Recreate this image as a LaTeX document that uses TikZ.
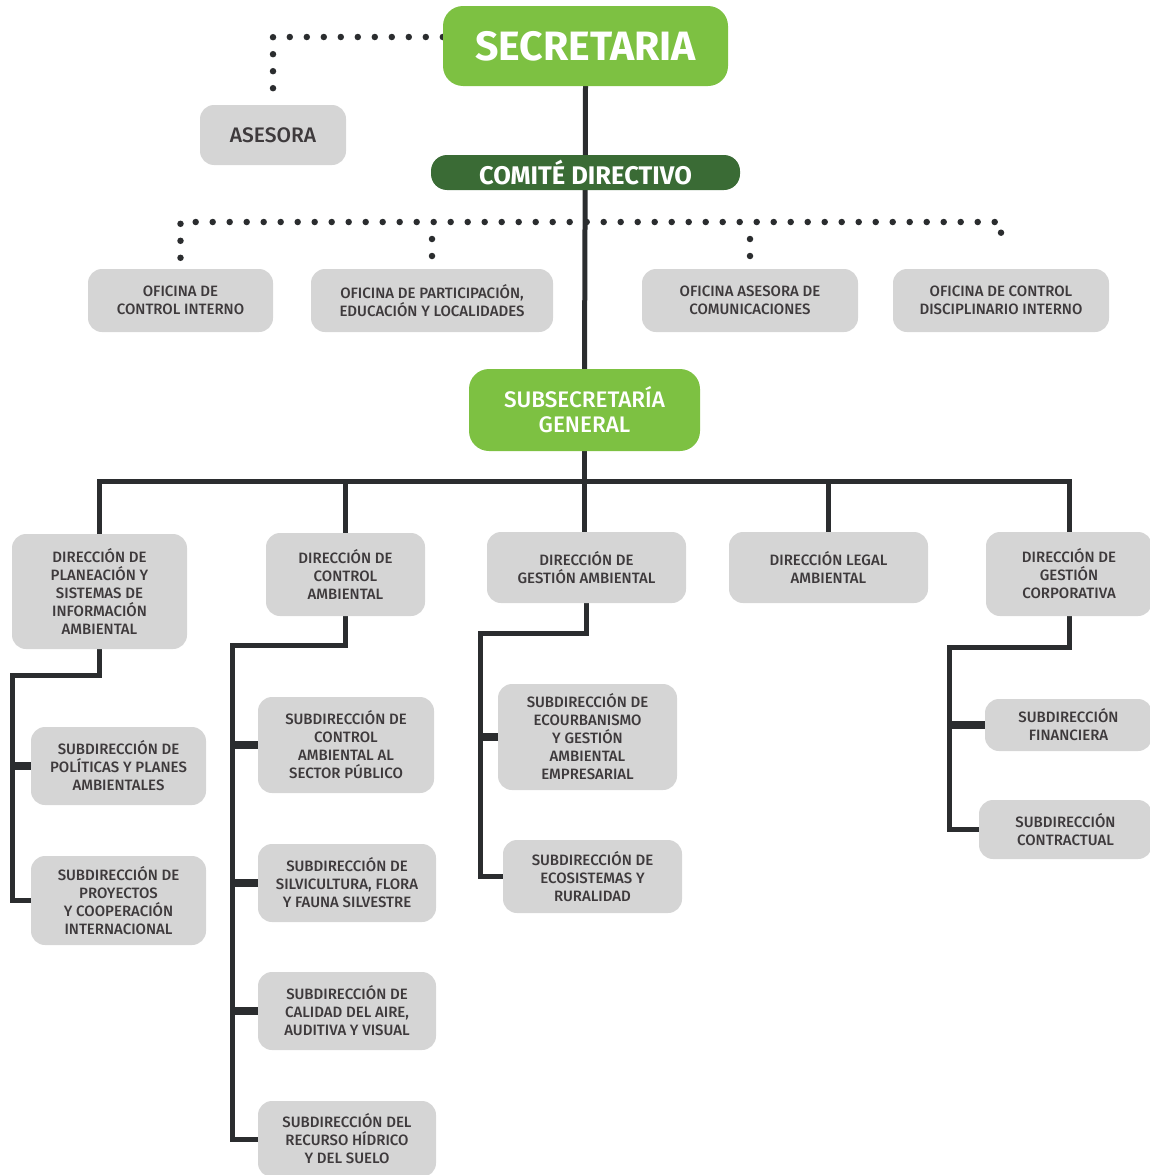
\documentclass[tikz,border=0pt]{standalone}
\usepackage{fontspec}
\setmainfont{Fira Sans}[UprightFont=* Medium, BoldFont=* Bold]
\usetikzlibrary{backgrounds}
\definecolor{boxgray}{HTML}{D5D5D5}
\definecolor{txtc}{HTML}{3E3A3C}
\definecolor{lgreen}{HTML}{7DC142}
\definecolor{dgreen}{HTML}{3A6B35}
\definecolor{linec}{HTML}{2B2D2F}
\tikzset{
  gbox/.style={fill=boxgray, rounded corners=14pt, text=txtc, align=center, inner sep=0pt,
    font=\fontsize{15}{18}\selectfont},
  grbox/.style={fill=lgreen, rounded corners=20pt, text=white, align=center, inner sep=0pt},
  conn/.style={draw=linec, line width=5pt},
  stub/.style={draw=linec, line width=8pt},
  dots/.style={draw=linec, line width=6.5pt, line cap=round, dash pattern=on 0pt off 17pt}
}
\begin{document}
\begin{tikzpicture}[x=1pt,y=-1pt]
\useasboundingbox (0,0) rectangle (1149,1175);

% top
\node[grbox, minimum width=285, minimum height=80, font=\fontsize{41}{43}\selectfont\bfseries] (sec) at (585.5,46) {SECRETARIA};
\node[gbox, minimum width=146, minimum height=60, font=\fontsize{21}{24}\selectfont] (ase) at (273,135) {ASESORA};
\node[fill=dgreen, rounded corners=16pt, text=white, inner sep=0pt, minimum width=309, minimum height=35,
  font=\fontsize{25.5}{27}\selectfont\bfseries] (com) at (585.5,172.5) {COMITÉ DIRECTIVO};

% oficinas
\node[gbox, minimum width=185, minimum height=63] (o1) at (180.5,300.5) {OFICINA DE\\CONTROL INTERNO};
\node[gbox, minimum width=242, minimum height=63] (o2) at (432,300.5) {OFICINA DE PARTICIPACIÓN,\\EDUCACIÓN Y LOCALIDADES};
\node[gbox, minimum width=216, minimum height=63] (o3) at (750,300.5) {OFICINA ASESORA DE\\COMUNICACIONES};
\node[gbox, minimum width=216, minimum height=63] (o4) at (1001,300.5) {OFICINA DE CONTROL\\DISCIPLINARIO INTERNO};

% subsecretaria
\node[grbox, minimum width=231, minimum height=82, font=\fontsize{22.5}{25}\selectfont] (sub) at (584.5,410) {SUBSECRETARÍA\\GENERAL};

% direcciones
\node[gbox, minimum width=175, minimum height=115] (d1) at (99.5,591.5) {DIRECCIÓN DE\\PLANEACIÓN Y\\SISTEMAS DE\\INFORMACIÓN\\AMBIENTAL};
\node[gbox, minimum width=159, minimum height=83] (d2) at (345.5,574.5) {DIRECCIÓN DE\\CONTROL\\AMBIENTAL};
\node[gbox, minimum width=199, minimum height=71] (d3) at (586.5,567.5) {DIRECCIÓN DE\\GESTIÓN AMBIENTAL};
\node[gbox, minimum width=199, minimum height=71] (d4) at (828.5,567.5) {DIRECCIÓN LEGAL\\AMBIENTAL};
\node[gbox, minimum width=166, minimum height=84] (d5) at (1069,574) {DIRECCIÓN DE\\GESTIÓN\\CORPORATIVA};

% subdirecciones
\node[gbox, minimum width=175, minimum height=78] (s11) at (118.5,766) {SUBDIRECCIÓN DE\\POLÍTICAS Y PLANES\\AMBIENTALES};
\node[gbox, minimum width=175, minimum height=89] (s12) at (118.5,900.5) {SUBDIRECCIÓN DE\\PROYECTOS\\Y COOPERACIÓN\\INTERNACIONAL};

\node[gbox, minimum width=176, minimum height=96] (s21) at (346,745) {SUBDIRECCIÓN DE\\CONTROL\\AMBIENTAL AL\\SECTOR PÚBLICO};
\node[gbox, minimum width=178, minimum height=78] (s22) at (347,883) {SUBDIRECCIÓN DE\\SILVICULTURA, FLORA\\Y FAUNA SILVESTRE};
\node[gbox, minimum width=178, minimum height=78] (s23) at (347,1011) {SUBDIRECCIÓN DE\\CALIDAD DEL AIRE,\\AUDITIVA Y VISUAL};
\node[gbox, minimum width=178, minimum height=76] (s24) at (347,1139) {SUBDIRECCIÓN DEL\\RECURSO HÍDRICO\\Y DEL SUELO};

\node[gbox, minimum width=179, minimum height=106] (s31) at (587.5,737) {SUBDIRECCIÓN DE\\ECOURBANISMO\\Y GESTIÓN\\AMBIENTAL\\EMPRESARIAL};
\node[gbox, minimum width=179, minimum height=73] (s32) at (592.5,876.5) {SUBDIRECCIÓN DE\\ECOSISTEMAS Y\\RURALIDAD};

\node[gbox, minimum width=167, minimum height=52] (s51) at (1068.5,725) {SUBDIRECCIÓN\\FINANCIERA};
\node[gbox, minimum width=173, minimum height=59] (s52) at (1065.5,829.5) {SUBDIRECCIÓN\\CONTRACTUAL};

\coordinate (dotbar) at (0,222);
\coordinate (bar) at (0,481);
\coordinate (k1) at (12,675);
\coordinate (k2) at (232,645);
\coordinate (k3) at (480,633);
\coordinate (k5) at (949,647);

\begin{pgfonlayer}{background}
% dotted
\draw[dots, shorten >=7pt] ([yshift=9pt]sec.west) -| (ase.north);
\draw[dots, shorten <=11pt, shorten >=24pt] (o1.north) |- (o4.north |- dotbar) -- (o4.north);
\draw[dots, shorten <=17pt, shorten >=11pt] (o2.north |- dotbar) -- (o2.north);
\draw[dots, shorten <=17pt, shorten >=11pt] (o3.north |- dotbar) -- (o3.north);
% solid
\draw[conn] (sec.south) -- (sub.north);
\draw[conn] (sub.south) -- (sub.south |- d3.north);
\draw[conn] (d1.north) |- (bar -| d5.north) -- (d5.north);
\draw[conn] (d2.north |- bar) -- (d2.north);
\draw[conn] (d4.north |- bar) -- (d4.north);
% D1
\draw[conn] (d1.south) |- (k1) |- (s12.west);
\draw[stub] (k1 |- s11.west) -- (s11.west);
% D2
\draw[conn] (d2.south) |- (k2) |- (s24.west);
\draw[stub] (k2 |- s21.west) -- (s21.west);
\draw[stub] (k2 |- s22.west) -- (s22.west);
\draw[stub] (k2 |- s23.west) -- (s23.west);
% D3
\draw[conn] (d3.south) |- (k3) |- (s32.west);
\draw[stub] (k3 |- s31.west) -- (s31.west);
% D5
\draw[conn] (d5.south) |- (k5) |- (s52.west);
\draw[stub] (k5 |- s51.west) -- (s51.west);
\end{pgfonlayer}
\end{tikzpicture}
\end{document}
